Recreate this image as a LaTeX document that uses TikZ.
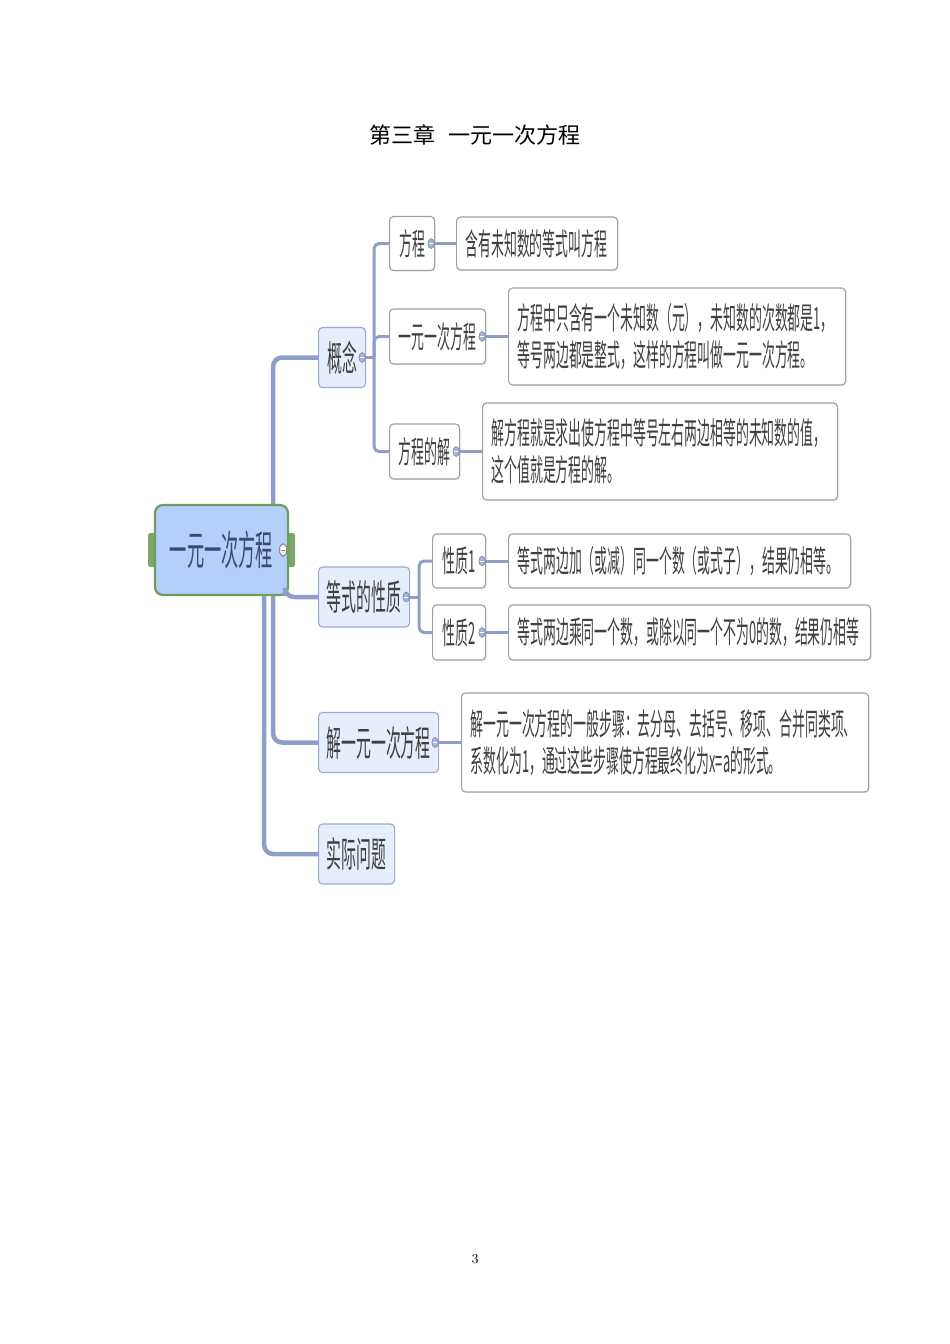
\documentclass[tikz,border=0pt]{standalone}
\usepackage{fontspec}
\usetikzlibrary{shadows}

\newfontfamily\cjk[FakeStretch=0.42]{Noto Sans CJK SC}
\newfontfamily\cjkplain{Noto Sans CJK SC}

\newcommand\pxu{0.6263pt}
\newcommand\rootfont{\cjk\fontsize{25.6}{30}\selectfont}
\newcommand\topicfont{\cjk\fontsize{22.2}{26}\selectfont}
\newcommand\notefont{\cjk\fontsize{19.2}{23.2}\selectfont}

\definecolor{rootblue}{HTML}{B4CFFA}
\definecolor{rootgreen}{HTML}{6F9D5B}
\definecolor{roottext}{HTML}{3A4A72}
\definecolor{topicfill}{HTML}{E6EDFB}
\definecolor{topicedge}{HTML}{9AAAD2}
\definecolor{boxedge}{HTML}{A0A0A0}
\definecolor{darktext}{HTML}{404040}
\definecolor{linecol}{HTML}{8F9EC8}
\definecolor{markfill}{HTML}{A3B3DC}

\tikzset{
	rootbox/.style={draw=rootgreen, line width=1.4pt, fill=rootblue, rounded corners=5pt,
		text=roottext, font=\rootfont, minimum width=133*\pxu, minimum height=90*\pxu, inner sep=0pt},
	topicbox/.style={draw=topicedge, line width=0.7pt, fill=topicfill, rounded corners=2.5pt,
		text=darktext, font=\topicfont, minimum height=60*\pxu, inner sep=0pt, anchor=west},
	subbox/.style={draw=boxedge, line width=0.7pt, fill=white, rounded corners=2.5pt,
		text=darktext, font=\notefont, minimum height=54*\pxu, inner sep=0pt, anchor=west,
		drop shadow={shadow xshift=0.6pt, shadow yshift=-0.6pt, opacity=0.2}},
	notebox/.style={draw=boxedge, line width=0.7pt, fill=white, rounded corners=2.5pt,
		text=darktext, font=\notefont, align=left, inner xsep=9*\pxu, inner ysep=0pt, anchor=west,
		drop shadow={shadow xshift=0.6pt, shadow yshift=-0.6pt, opacity=0.2}},
	branch/.style={draw=linecol, line width=4.5*\pxu, rounded corners=9*\pxu},
	twig/.style={draw=linecol, line width=3*\pxu, rounded corners=5*\pxu},
}

%% small collapse mark on the right edge of a box
\newcommand\foldmark[1]{%
	\filldraw[fill=markfill, draw=markfill!70!black, line width=0.3pt]
		([xshift=-4*\pxu]#1.east) ellipse [x radius=3.2, y radius=5];
	\draw[white, line width=0.6pt] ([xshift=-6*\pxu]#1.east) -- ([xshift=-2*\pxu]#1.east);
}

\begin{document}
\begin{tikzpicture}[x=0.6263pt, y=-0.6263pt]
	\useasboundingbox (0,0) rectangle (950,1344);

	%% Title and page number
	\node[font=\cjkplain\fontsize{13.8}{16}\selectfont, text=black] (title) at (475,135)
		{第三章\hspace{0.6em}一元一次方程};
	\node[font=\fontsize{8.5}{10}\selectfont] (pagenum) at (475,1259) {3};

	%% Root with its side tabs
	\fill[rootgreen!90, rounded corners=1.5pt] (148,533) rectangle (156,567);
	\fill[rootgreen!90, rounded corners=1.5pt] (287,533) rectangle (295,567);
	\node[rootbox] (root) at (221.5,550) {一元一次方程};

	%% Main topics
	\node[topicbox, minimum width=47*\pxu] (gainian) at (318,357.5) {概念};
	\node[topicbox, minimum width=91*\pxu] (xingzhi) at (318,597) {等式的性质};
	\node[topicbox, minimum width=120*\pxu] (jiefa) at (318,742.5) {解一元一次方程};
	\node[topicbox, minimum width=76*\pxu] (shiji) at (318,854) {实际问题};

	%% Subtopics
	\node[subbox, minimum width=45*\pxu] (fangcheng) at (389,243.5) {方程};
	\node[subbox, minimum width=96*\pxu, minimum height=55*\pxu] (yiyuan) at (389,336.5) {一元一次方程};
	\node[subbox, minimum width=70*\pxu, minimum height=55*\pxu] (fcjie) at (389,451.5) {方程的解};
	\node[subbox, minimum width=53*\pxu] (xz1) at (432,561) {性质1};
	\node[subbox, minimum width=53*\pxu, minimum height=55*\pxu] (xz2) at (432,632.5) {性质2};

	%% Notes
	\node[notebox, text width=143*\pxu, minimum height=53*\pxu] (defA) at (456,243.5)
		{含有未知数的等式叫方程};
	\node[notebox, text width=319*\pxu, minimum height=97*\pxu] (defB) at (508,336.5)
		{方程中只含有一个未知数（元），未知数的次数都是1，\\等号两边都是整式，这样的方程叫做一元一次方程。};
	\node[notebox, text width=337*\pxu, minimum height=97*\pxu] (defC) at (482,451.5)
		{解方程就是求出使方程中等号左右两边相等的未知数的值，\\这个值就是方程的解。};
	\node[notebox, text width=324*\pxu, minimum height=54*\pxu] (propA) at (508,561)
		{等式两边加（或减）同一个数（或式子），结果仍相等。};
	\node[notebox, text width=344*\pxu, minimum height=55*\pxu] (propB) at (508,632.5)
		{等式两边乘同一个数，或除以同一个不为0的数，结果仍相等};
	\node[notebox, text width=389*\pxu, minimum height=99*\pxu] (steps) at (461,742.5)
		{解一元一次方程的一般步骤：去分母、去括号、移项、合并同类项、\\系数化为1，通过这些步骤使方程最终化为x=a的形式。};

	%% Root branches
	\draw[branch] ([xshift=-16*\pxu]root.north east) |- (gainian.west);
	\draw[branch] ([xshift=-4*\pxu]root.south east) |- (xingzhi.west);
	\draw[branch] ([xshift=-16*\pxu]root.south east) |- (jiefa.west);
	\draw[branch] ([xshift=-25*\pxu]root.south east) |- (shiji.west);

	%% Topic to subtopic
	\coordinate (gj) at ([xshift=8*\pxu]gainian.east);
	\draw[twig] (gainian.east) -- (gj);
	\foreach \s in {fangcheng, yiyuan, fcjie}
		\draw[twig] (gj) |- (\s.west);
	\coordinate (xj) at ([xshift=9*\pxu]xingzhi.east);
	\draw[twig] (xingzhi.east) -- (xj);
	\foreach \s in {xz1, xz2}
		\draw[twig] (xj) |- (\s.west);

	%% Subtopic to note
	\foreach \a/\b in {fangcheng/defA, yiyuan/defB, fcjie/defC, xz1/propA, xz2/propB, jiefa/steps}
		\draw[twig] (\a.east) -- (\b.west);

	%% Collapse marks
	\foreach \s in {gainian, xingzhi, jiefa, fangcheng, yiyuan, fcjie, xz1, xz2}
		\foldmark{\s}
	\filldraw[fill=white!90!rootblue, draw=gray, line width=0.4pt]
		([xshift=-6*\pxu]root.east) ellipse [x radius=3.5, y radius=6];
	\draw[gray, line width=0.6pt] ([xshift=-8*\pxu]root.east) -- ([xshift=-4*\pxu]root.east);
\end{tikzpicture}
\end{document}
